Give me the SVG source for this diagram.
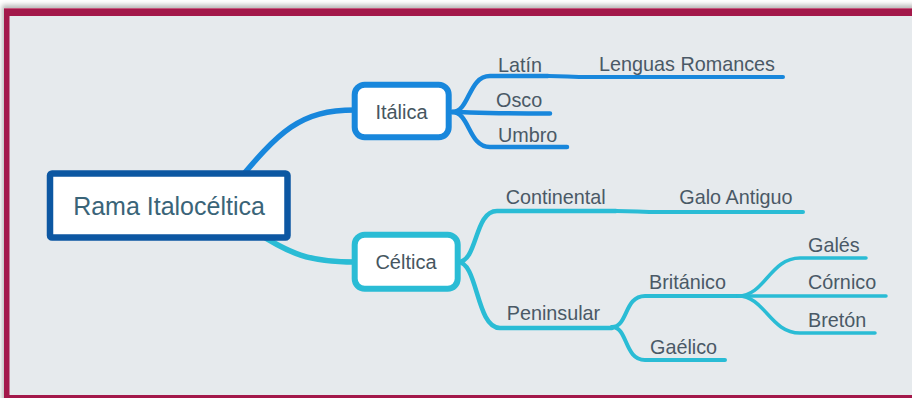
<svg xmlns="http://www.w3.org/2000/svg" width="912" height="398" viewBox="0 0 912 398">
  <defs>
    <filter id="frameShadow" x="-5%" y="-5%" width="110%" height="110%">
      <feGaussianBlur stdDeviation="2.5"/>
    </filter>
    <style>
      .lbl { font-family: "Liberation Sans", Arial, sans-serif; font-size: 19.8px; fill: #4a5966; }
      .box-text { font-family: "Liberation Sans", Arial, sans-serif; font-size: 20px; fill: #46565f; text-anchor: middle; }
      .edge { fill: none; stroke-linecap: round; stroke-linejoin: round; }
      .blue { stroke: #1887dc; }
      .cyan { stroke: #2abcd5; }
    </style>
  </defs>

  <!-- page background and framed canvas -->
  <rect x="0" y="0" width="912" height="398" fill="#ffffff"/>
  <rect x="2" y="5" width="920" height="400" fill="#000" opacity="0.28" filter="url(#frameShadow)"/>
  <rect x="4" y="8" width="920" height="400" fill="#a3184a"/>
  <rect x="4" y="8" width="920" height="1" fill="#c4567c"/>
  <rect x="9.5" y="16" width="920" height="379" fill="#e6eaed"/>

  <!-- connectors -->
  <g id="connectors" class="edge">
    <path class="blue" stroke-width="5.5" d="M 232 188 C 280 130, 300 110, 355 110"/>
    <path class="cyan" stroke-width="5.5" d="M 250 228 C 290 255, 310 262, 355 262"/>

    <path class="blue" stroke-width="4.5" d="M 452 112 C 470 112, 468 76, 490 76 L 548 76"/>
    <path class="blue" stroke-width="4" d="M 548 76 C 565 76, 570 77, 590 77 L 783 77"/>
    <path class="blue" stroke-width="4.5" d="M 452 112 C 470 112, 480 113.5, 550 113.5"/>
    <path class="blue" stroke-width="4.5" d="M 452 112 C 470 112, 468 147, 490 147 L 567 147"/>

    <path class="cyan" stroke-width="4.5" d="M 458 262 C 478 262, 474 211, 497 211 L 616 211"/>
    <path class="cyan" stroke-width="4" d="M 616 211 C 635 211, 640 212, 660 212 L 803 212"/>
    <path class="cyan" stroke-width="4.5" d="M 458 262 C 478 262, 476 328, 500 328 L 612 328"/>

    <path class="cyan" stroke-width="4" d="M 612 327 C 628 327, 624 296, 645 296 L 738 296"/>
    <path class="cyan" stroke-width="4" d="M 612 327 C 628 327, 624 360, 645 360 L 725 360"/>

    <path class="cyan" stroke-width="3.5" d="M 738 296 C 765 296, 770 258, 800 258 L 866 258"/>
    <path class="cyan" stroke-width="3.5" d="M 738 296 L 886 296"/>
    <path class="cyan" stroke-width="3.5" d="M 738 296 C 765 296, 770 333, 800 333 L 875 333"/>
  </g>

  <!-- root -->
  <g id="rama-italoceltica">
    <rect x="50" y="173.5" width="237.5" height="64" rx="2" fill="#ffffff" stroke="#0c57a2" stroke-width="6.5"/>
    <text x="169" y="215" font-family="Liberation Sans, Arial, sans-serif" font-size="25" fill="#3a6478" text-anchor="middle">Rama Italocéltica</text>
  </g>

  <!-- main branches -->
  <g id="italica">
    <rect x="354.7" y="84.7" width="94" height="52.5" rx="10" fill="#ffffff" stroke="#1887dc" stroke-width="6"/>
    <text class="box-text" x="401.5" y="119">Itálica</text>
  </g>
  <g id="celtica">
    <rect x="354.7" y="234.7" width="103" height="54" rx="10" fill="#ffffff" stroke="#2abcd5" stroke-width="6"/>
    <text class="box-text" x="406" y="269">Céltica</text>
  </g>

  <!-- Italic languages -->
  <g id="latin"><text class="lbl" x="498" y="71.5">Latín</text></g>
  <g id="lenguas-romances"><text class="lbl" x="599" y="71">Lenguas Romances</text></g>
  <g id="osco"><text class="lbl" x="496" y="106.7">Osco</text></g>
  <g id="umbro"><text class="lbl" x="498" y="141.7">Umbro</text></g>

  <!-- Celtic languages -->
  <g id="continental"><text class="lbl" x="505.7" y="204">Continental</text></g>
  <g id="galo-antiguo"><text class="lbl" x="679.3" y="204">Galo Antiguo</text></g>
  <g id="peninsular"><text class="lbl" x="506.7" y="320">Peninsular</text></g>
  <g id="britanico"><text class="lbl" x="649" y="289">Británico</text></g>
  <g id="gaelico"><text class="lbl" x="650" y="354">Gaélico</text></g>
  <g id="gales"><text class="lbl" x="808" y="251.7">Galés</text></g>
  <g id="cornico"><text class="lbl" x="808" y="289.3">Córnico</text></g>
  <g id="breton"><text class="lbl" x="808" y="326.7">Bretón</text></g>
</svg>
